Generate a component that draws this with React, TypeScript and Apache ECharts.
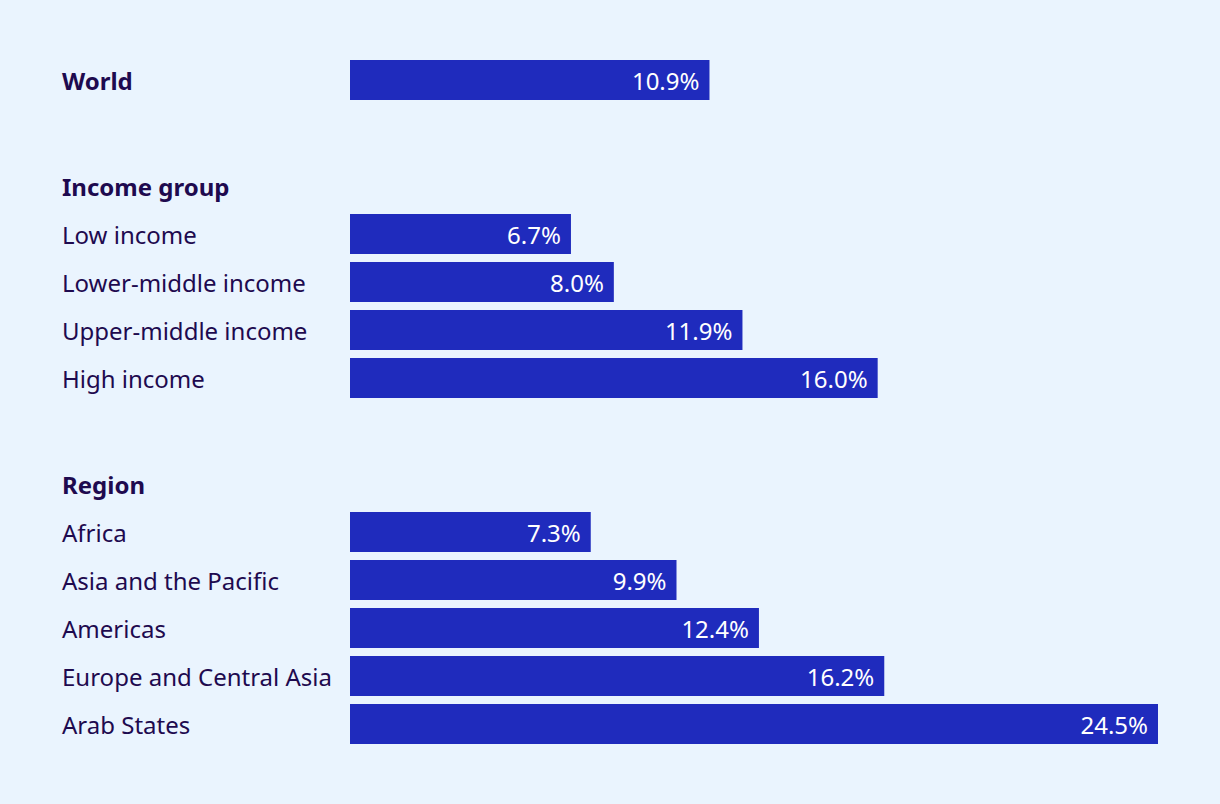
import React, { useEffect, useRef } from "react";
import * as echarts from "echarts";

const worldCategories = ["World"];
const worldValues = [10.9];
const incomeCategories = ["Low income", "Lower-middle income", "Upper-middle income", "High income"];
const incomeValues = [6.7, 8.0, 11.9, 16.0];
const regionCategories = ["Africa", "Asia and the Pacific", "Americas", "Europe and Central Asia", "Arab States"];
const regionValues = [7.3, 9.9, 12.4, 16.2, 24.5];
const headers = ["Income group", "Region"];
const xMax = 24.5;

const BG = "#eaf4fe";
const BAR = "#1f2bbd";
const TEXT = "#1e0a4f";
const FONT = "'Noto Sans', sans-serif";

export default function App() {
  const ref = useRef<HTMLDivElement>(null);
  useEffect(() => {
    document.body.style.margin = "0";
    const chart = echarts.init(ref.current!, null, { renderer: "svg" });
    const grids = [
      { top: 56, height: 48 },
      { top: 210, height: 192 },
      { top: 508, height: 240 },
    ];
    const cats = [worldCategories, incomeCategories, regionCategories];
    const vals = [worldValues, incomeValues, regionValues];
    chart.setOption({
      animation: false,
      backgroundColor: BG,
      textStyle: { fontFamily: FONT },
      grid: grids.map((g) => ({ left: 350, width: 808, top: g.top, height: g.height })),
      xAxis: grids.map((_, i) => ({
        type: "value",
        gridIndex: i,
        min: 0,
        max: xMax,
        show: false,
      })),
      yAxis: grids.map((_, i) => ({
        type: "category",
        gridIndex: i,
        inverse: true,
        data: cats[i],
        axisLine: { show: false },
        axisTick: { show: false },
        splitLine: { show: false },
        axisLabel: {
          align: "left",
          margin: 288,
          color: TEXT,
          fontSize: 24,
          fontFamily: FONT,
          fontWeight: i === 0 ? "bold" : "normal",
          verticalAlign: "middle",
          padding: [0, 0, 3, 0],
        },
      })),
      series: vals.map((v, i) => ({
        type: "bar",
        xAxisIndex: i,
        yAxisIndex: i,
        data: v,
        barWidth: 40,
        itemStyle: { color: BAR },
        label: {
          show: true,
          position: "insideRight",
          distance: 10,
          color: "#ffffff",
          fontSize: 24,
          fontFamily: FONT,
          padding: [0, 0, 2, 0],
          formatter: (p: any) => p.value.toFixed(1) + "%",
        },
      })),
      graphic: [
        {
          type: "text",
          x: 62,
          y: 186,
          style: { text: headers[0], fill: TEXT, font: `bold 24px ${FONT}`, verticalAlign: "middle" },
        },
        {
          type: "text",
          x: 62,
          y: 484,
          style: { text: headers[1], fill: TEXT, font: `bold 24px ${FONT}`, verticalAlign: "middle" },
        },
      ],
    });
    return () => chart.dispose();
  }, []);
  return <div ref={ref} style={{ width: 1220, height: 804 }} />;
}
